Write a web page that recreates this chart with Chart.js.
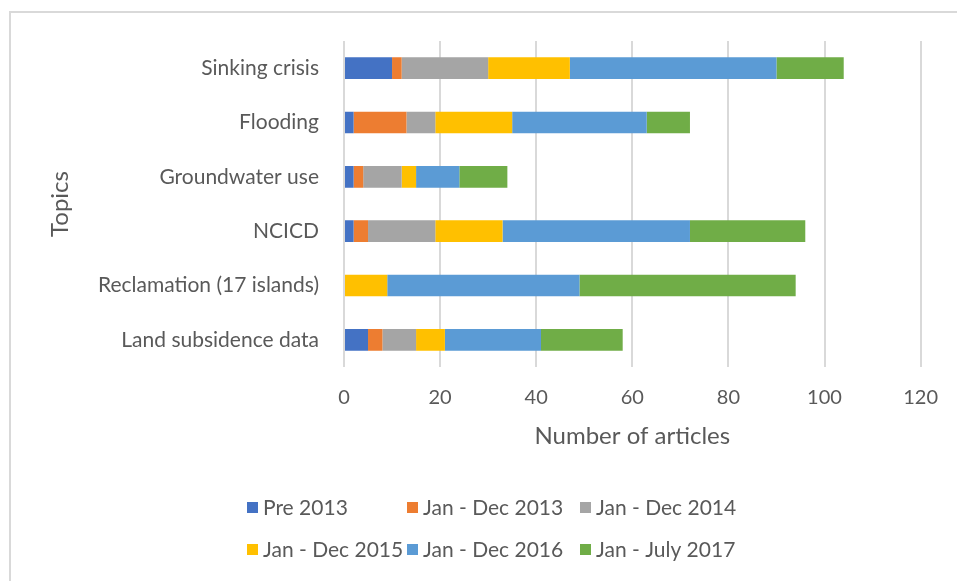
<!DOCTYPE html>
<html>
<head>
<meta charset="utf-8">
<script src="https://cdn.jsdelivr.net/npm/chart.js@4"></script>
<style>
  html, body { margin: 0; padding: 0; background: #fff; overflow: hidden; }
  #frame { position: absolute; left: 9px; top: 11px; width: 1000px; height: 600px;
           border-left: 2px solid #d9d9d9; border-top: 2px solid #d9d9d9; }
  #wrap { position: absolute; left: 0; top: 0; width: 957px; height: 581px; }
</style>
</head>
<body>
<div id="frame"></div>
<div id="wrap"><canvas id="chart"></canvas></div>
<script>
const topics = ['Sinking crisis', 'Flooding', 'Groundwater use', 'NCICD', 'Reclamation (17 islands)', 'Land subsidence data'];
const periods = ['Pre 2013', 'Jan - Dec 2013', 'Jan - Dec 2014', 'Jan - Dec 2015', 'Jan - Dec 2016', 'Jan - July 2017'];

// articles per period, same order as topics
const pre2013 = [10, 2, 2, 2, 0, 5];
const y2013   = [2, 11, 2, 3, 0, 3];
const y2014   = [18, 6, 8, 14, 0, 7];
const y2015   = [17, 16, 3, 14, 9, 6];
const y2016   = [43, 28, 9, 39, 40, 20];
const y2017   = [14, 9, 10, 24, 45, 17];

const xTicks = [0, 20, 40, 60, 80, 100, 120];

const colores = ['#4472C4', '#ED7D31', '#A5A5A5', '#FFC000', '#5B9BD5', '#70AD47'];
const series = [pre2013, y2013, y2014, y2015, y2016, y2017];

const fontFam = 'Lato, "Open Sans", sans-serif';
const gris = '#595959';

// legend laid out in fixed columns like the original
const legendaGrid = {
    id: 'legendaGrid',
    afterDraw(chart) {
        const ctx = chart.ctx;
        const colX = [247, 407, 580];
        const rowY = [508, 550];
        ctx.save();
        ctx.font = '21px ' + fontFam;
        ctx.textBaseline = 'middle';
        chart.data.datasets.forEach((ds, i) => {
            const x = colX[i % 3];
            const y = rowY[Math.floor(i / 3)];
            ctx.fillStyle = ds.backgroundColor;
            ctx.fillRect(x, y - 6, 11, 11);
            ctx.fillStyle = gris;
            ctx.fillText(ds.label, x + 16, y);
        });
        ctx.restore();
    }
};

new Chart(document.getElementById('chart'), {
    type: 'bar',
    data: {
        labels: topics,
        datasets: series.map((vals, i) => ({
            label: periods[i],
            data: vals,
            backgroundColor: colores[i],
            borderWidth: 0,
            categoryPercentage: 1,
            barPercentage: 0.4
        }))
    },
    options: {
        indexAxis: 'y',
        responsive: true,
        maintainAspectRatio: false,
        animation: false,
        layout: { padding: { left: 0, right: 35, top: 41, bottom: 0 } },
        scales: {
            x: {
                stacked: true,
                min: 0,
                max: 120,
                afterBuildTicks: (axis) => { axis.ticks = xTicks.map(v => ({ value: v })); },
                afterFit: (axis) => { axis.height = 581 - 367; },
                grid: { color: '#d9d9d9', lineWidth: 2, drawTicks: false },
                border: { display: false },
                ticks: { color: gris, font: { family: fontFam, size: 20 }, padding: 19 },
                title: {
                    display: true,
                    text: 'Number of articles',
                    color: gris,
                    font: { family: fontFam, size: 24 },
                    padding: { top: 0, bottom: 130 }
                }
            },
            y: {
                stacked: true,
                afterFit: (axis) => { axis.width = 344; },
                grid: { display: false },
                border: { display: false },
                ticks: { color: gris, font: { family: fontFam, size: 21 }, padding: 17 },
                title: {
                    display: true,
                    text: 'Topics',
                    color: gris,
                    font: { family: fontFam, size: 24 },
                    padding: { top: 46, bottom: 0 }
                }
            }
        },
        plugins: {
            legend: { display: false },
            tooltip: { enabled: false }
        }
    },
    plugins: [legendaGrid]
});
</script>
</body>
</html>
